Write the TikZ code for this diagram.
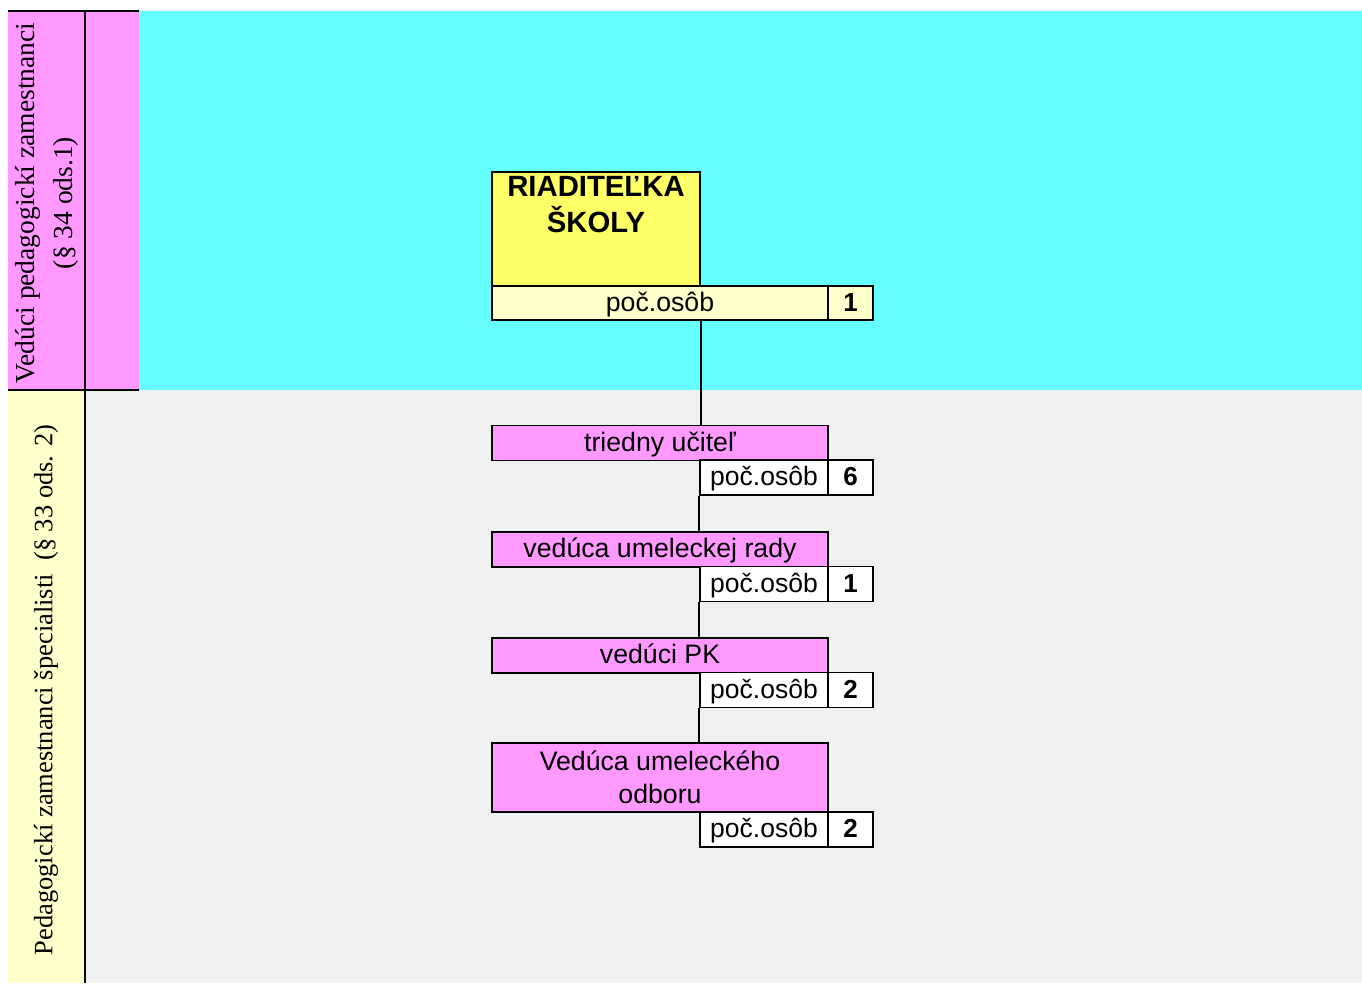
\documentclass[tikz,border=0pt]{standalone}
\usepackage{fontspec}
\newfontfamily\arw{Liberation Sans}
\newfontfamily\arwb{Liberation Sans}
\newfontfamily\tnr{Liberation Serif}
\definecolor{cyanbg}{HTML}{66FFFF}
\definecolor{pinkbg}{HTML}{FF99FF}
\definecolor{greybg}{HTML}{F0F0F0}
\definecolor{creambg}{HTML}{FFFFCC}
\definecolor{yellowbg}{HTML}{FFFF66}
\begin{document}
\begin{tikzpicture}[x=1pt,y=-1pt,
  oneline/.style={text height=21.9pt,text depth=5.3pt},
  boxbase/.style={draw=black,line width=1.6pt,inner sep=0pt,minimum width=336pt,minimum height=35pt,fill=pinkbg,font=\arw\fontsize{26.7}{33.5}\selectfont,align=center},
  box/.style={boxbase,oneline},
  cnt/.style={draw=black,line width=1.6pt,inner sep=0pt,minimum width=128pt,minimum height=35pt,fill=white,font=\arw\fontsize{26.5}{27}\selectfont,oneline},
  num/.style={draw=black,line width=1.6pt,inner sep=0pt,minimum width=45pt,minimum height=35pt,fill=white,font=\arw\bfseries\fontsize{26}{27}\selectfont,oneline},
  conn/.style={draw=black,line width=1.6pt},
  grid/.style={draw=black,line width=2pt},
  lbl/.style={rotate=90,inner sep=0pt,align=center}]
\useasboundingbox (0,0) rectangle (1362,983);
\fill[white] (0,0) rectangle (1362,983);
% backgrounds
\fill[cyanbg] (139,11) rectangle (1362,390);
\fill[greybg] (85,390) rectangle (1362,983);
\fill[pinkbg] (8,11) rectangle (139,390);
\fill[creambg] (8,390) rectangle (85,983);
\coordinate (gtl) at (8,11);
\coordinate (gtr) at (139,11);
\coordinate (gml) at (8,390);
\coordinate (gmr) at (139,390);
\coordinate (gvt) at (85,11);
\coordinate (gvb) at (85,983);
\draw[grid] (gtl) -- (gtr);
\draw[grid] (gml) -- (gmr);
\draw[grid] (gvt) -- (gvb);
% side labels
\node[lbl,font=\tnr\fontsize{27.5}{38}\selectfont] (l1) at (47,203) {Vedúci pedagogickí zamestnanci\\(§ 34 ods.1)};
\node[lbl,font=\tnr\fontsize{26.5}{38}\selectfont] (l2) at (46,690) {Pedagogickí zamestnanci špecialisti\ \ (§ 33 ods. 2)};
% director
\node[draw=black,line width=1.6pt,fill=yellowbg,minimum width=208pt,minimum height=114pt,inner sep=0pt] (dir) at (596,229) {};
\node[anchor=north,inner sep=0pt,align=center,font=\arwb\bfseries\fontsize{29.3}{36}\selectfont] (dirt) at (596,176) {RIADITEĽKA\\ŠKOLY};
\node[box,fill=creambg,minimum height=34pt] (dirrow) at (660,303) {poč.osôb};
\node[num,fill=creambg,minimum height=34pt] (dirnum) at (850.5,303) {1};
% boxes
\node[box] (b1) at (660,443) {triedny učiteľ};
\node[cnt] (s1) at (764,477.5) {poč.osôb};
\node[num] (n1) at (850.5,477.5) {6};
\node[box] (b2) at (660,549.5) {vedúca umeleckej rady};
\node[cnt] (s2) at (764,584) {poč.osôb};
\node[num] (n2) at (850.5,584) {1};
\node[box] (b3) at (660,655.5) {vedúci PK};
\node[cnt] (s3) at (764,690) {poč.osôb};
\node[num] (n3) at (850.5,690) {2};
\node[boxbase,minimum height=69pt] (b4) at (660,777.5) {Vedúca umeleckého\\odboru};
\node[cnt] (s4) at (764,829.5) {poč.osôb};
\node[num] (n4) at (850.5,829.5) {2};
% connectors
\draw[conn] (dirrow.south -| dir.east) -- (b1.north -| dir.east);
\draw[conn] (s1.south west) -- (b2.north -| s1.west);
\draw[conn] (s2.south west) -- (b3.north -| s2.west);
\draw[conn] (s3.south west) -- (b4.north -| s3.west);
\end{tikzpicture}
\end{document}
